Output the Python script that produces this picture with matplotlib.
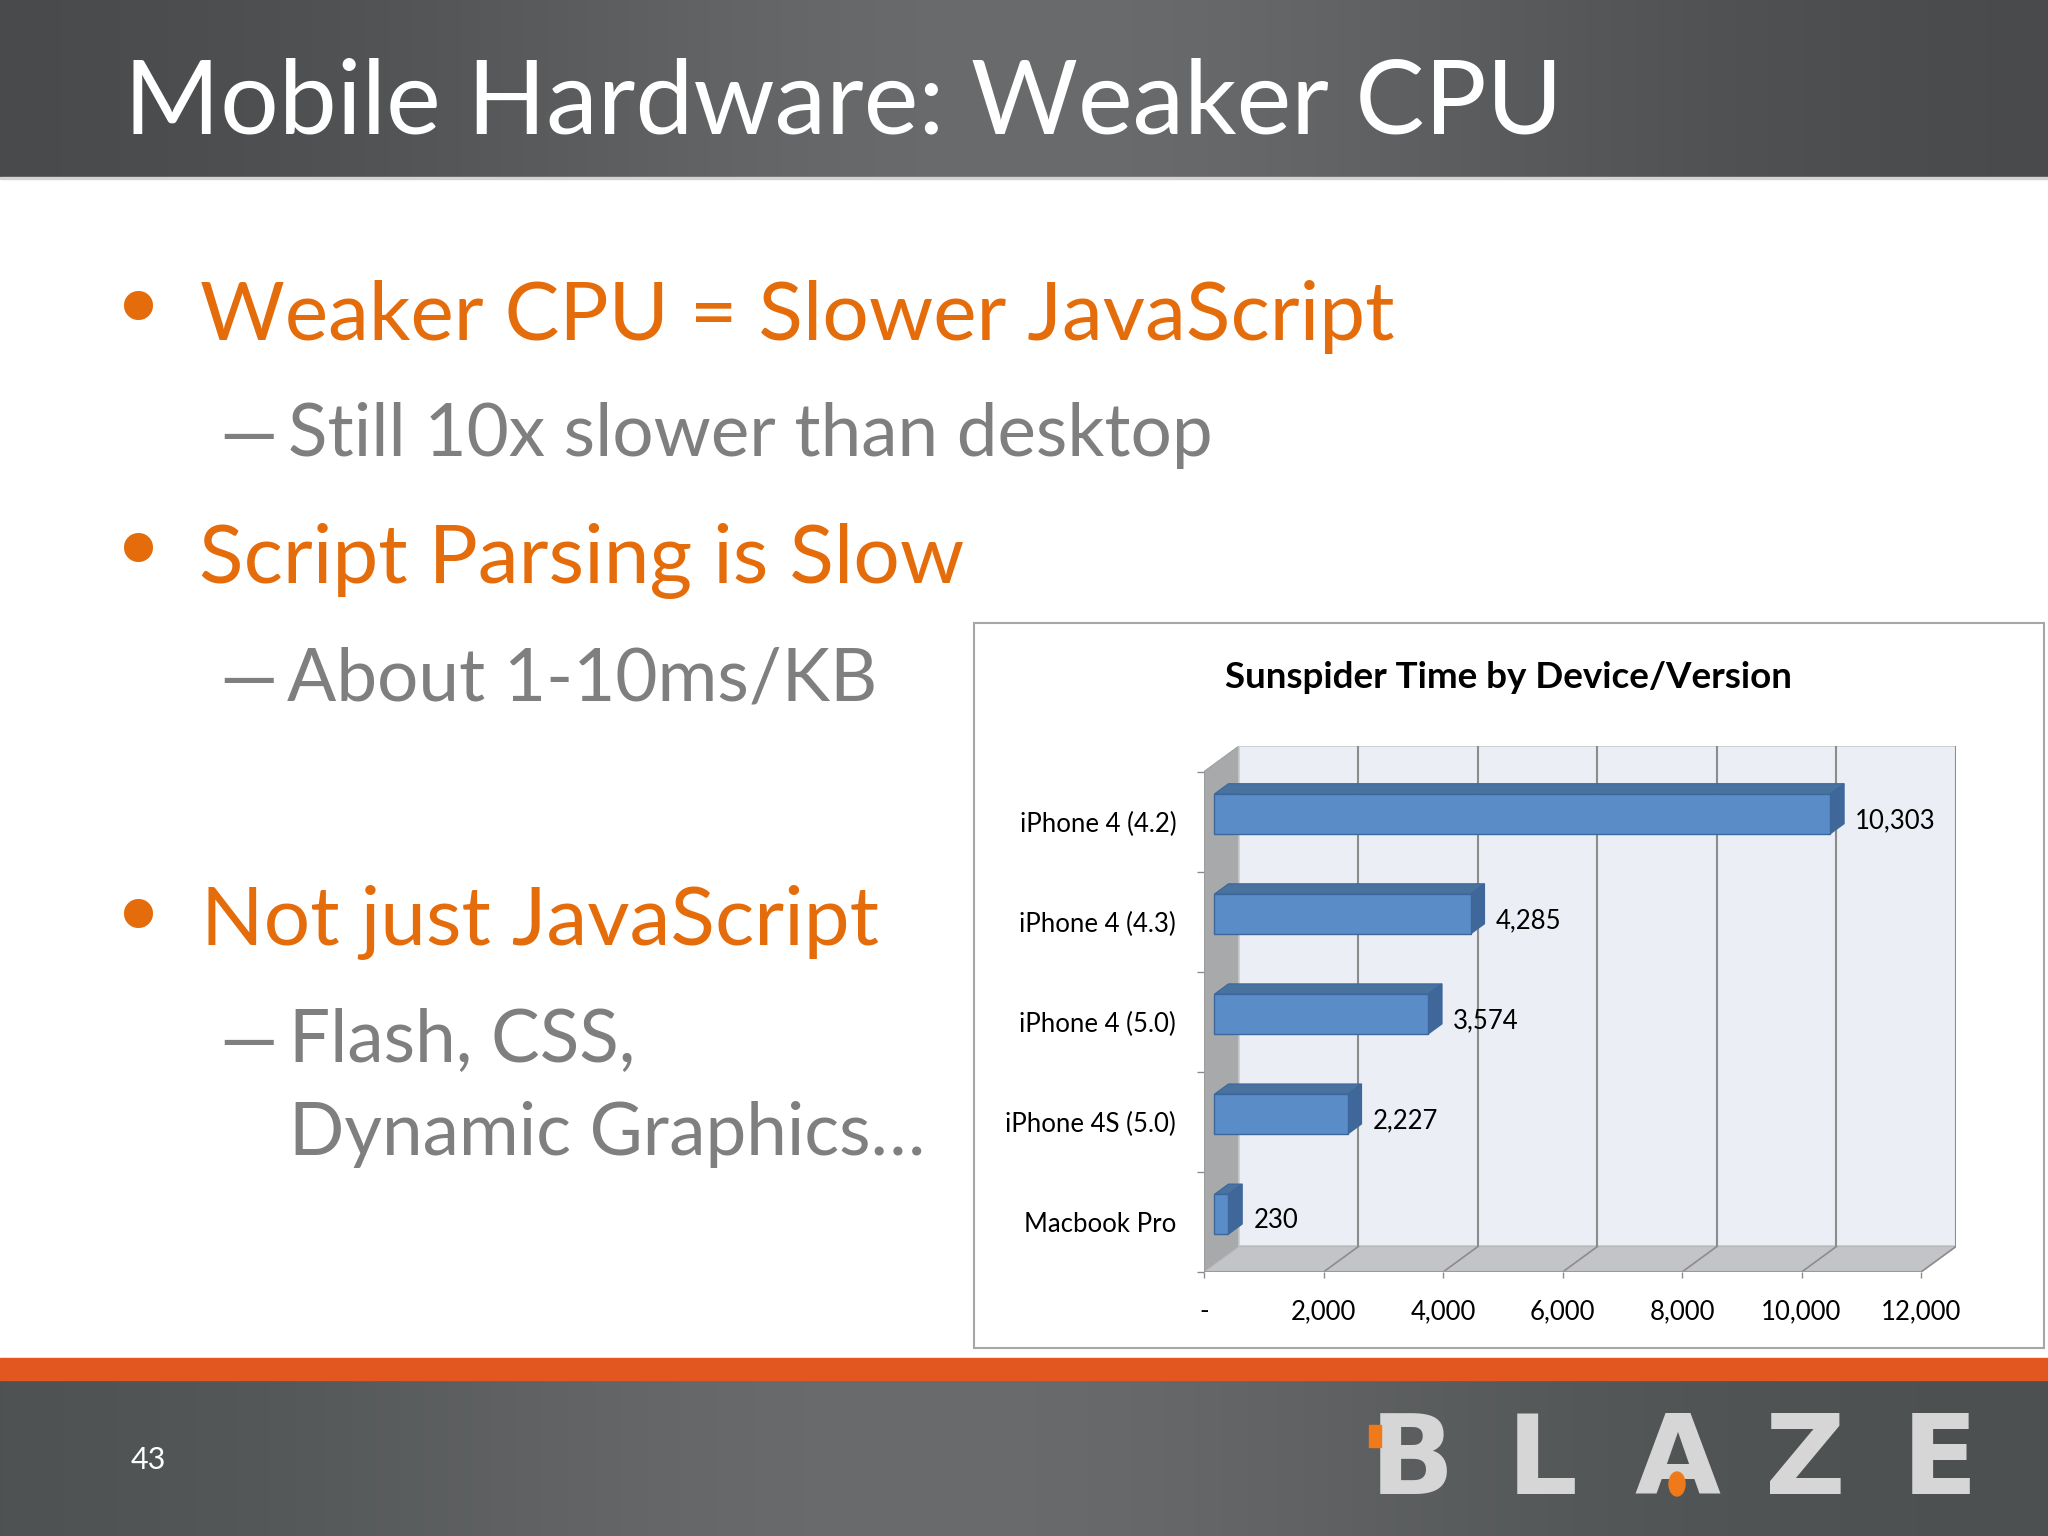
import numpy as np
import matplotlib
matplotlib.use('Agg')
import matplotlib.pyplot as plt
from matplotlib.patches import Rectangle, Polygon, Ellipse
from matplotlib.colors import to_rgb

#~~~~~~~~~ CHART DATA ~~~~~~~~~#
devices = ['iPhone 4 (4.2)', 'iPhone 4 (4.3)', 'iPhone 4 (5.0)', 'iPhone 4S (5.0)', 'Macbook Pro']
times = [10303, 4285, 3574, 2227, 230]
time_labels = ['10,303', '4,285', '3,574', '2,227', '230']
xticks = [0, 2000, 4000, 6000, 8000, 10000, 12000]
xticklabels = ['-', '2,000', '4,000', '6,000', '8,000', '10,000', '12,000']

slide_title = 'Mobile Hardware: Weaker CPU'
chart_title = 'Sunspider Time by Device/Version'
page_no = '43'

plt.rcParams['font.family'] = ['Lato', 'DejaVu Sans']

ORANGE = '#E46C0A'
GRAY = '#7F7F7F'

W, H = 2048, 1536
fig = plt.figure(figsize=(20.48, 15.36), dpi=100)
fig.patch.set_facecolor('white')

# slide background, pixel coordinates
bg = fig.add_axes([0, 0, 1, 1])
bg.axis('off')


def band(c_edge, c_mid, centre=0.5, spread=0.3):
    xs = np.linspace(0, 1, 600)
    glow = np.exp(-((xs - centre) / spread) ** 2)
    a = np.array(to_rgb(c_edge))
    b = np.array(to_rgb(c_mid))
    row = a[None, :] + (b - a)[None, :] * glow[:, None]
    return row[None, :, :]


bg.imshow(band('#464849', '#6a6b6c', 0.5), extent=[0, W, 177, 0], aspect='auto')
bg.add_patch(Rectangle((0, 177), W, 2, color='#d2d3d3'))
bg.add_patch(Rectangle((0, 1358), W, 22, color='#E2561F'))
bg.imshow(band('#4b4f50', '#6a6b6c', 0.45), extent=[0, W, H, 1380], aspect='auto')
bg.set_xlim(0, W)
bg.set_ylim(H, 0)

# title
bg.text(124, 134, slide_title, color='white', fontsize=74.5, va='baseline')

# bullets
for yb in [315, 557, 923]:
    bg.text(138, yb, '\u2022', color=ORANGE, fontsize=72, ha='center', va='center', family='DejaVu Sans')
bg.text(200, 340, 'Weaker CPU = Slower JavaScript', color=ORANGE, fontsize=59, va='baseline')
bg.text(199, 583, 'Script Parsing is Slow', color=ORANGE, fontsize=59, va='baseline')
bg.text(201, 945, 'Not just JavaScript', color=ORANGE, fontsize=59, va='baseline')
# sub-level dashes
for yb in [456, 700, 1062]:
    bg.text(219, yb + 2, '\u2014', color=GRAY, fontsize=53, va='baseline')
bg.text(288, 456, 'Still 10x slower than desktop', color=GRAY, fontsize=52.5, va='baseline')
bg.text(287, 700, 'About 1-10ms/KB', color=GRAY, fontsize=52.5, va='baseline')
bg.text(289, 1062, 'Flash, CSS,', color=GRAY, fontsize=52.5, va='baseline')
bg.text(289, 1155, 'Dynamic Graphics\u2026', color=GRAY, fontsize=52.5, va='baseline')

# chart frame
bg.add_patch(Rectangle((974, 623), 1070, 725, facecolor='white', edgecolor='#A6A6A6', lw=1.5))
bg.text(1508, 677, chart_title, ha='center', va='center', fontsize=26.5, fontweight='bold')

# footer
bg.text(131, 1460, page_no, color='white', fontsize=22, va='center')
for ch, xc in zip('BLAZE', [1412, 1542, 1677, 1805, 1940]):
    bg.text(xc, 1463, ch, color='#D6D6D6', fontsize=80, fontweight='bold',
            ha='center', va='center', family='DejaVu Sans')
bg.add_patch(Ellipse((1677, 1484), 16, 24, color='#F07A1A', zorder=5))
bg.add_patch(Rectangle((1369, 1425), 12, 22, color='#F07A1A', zorder=5))

#~~~~~~~~~ 3D-look bar chart ~~~~~~~~~#
DX = 585     # depth shift along value axis (data units)
DY = 0.255   # depth shift along category axis
F0, BD, BH = 0.3, 0.4, 0.4   # bar front offset, bar depth, bar height

ax = fig.add_axes([1204 / W, 1 - 1272 / H, 752 / W, 526 / H])
ax.patch.set_visible(False)
for s in ax.spines.values():
    s.set_visible(False)
ax.set_xlim(0, xticks[-1] + DX)
ax.set_ylim(-0.5, len(devices) - 0.5 + DY)

ytop = len(devices) - 0.5
xmax = xticks[-1]
ax.add_patch(Polygon([(0, -0.5), (0, ytop), (DX, ytop + DY), (DX, -0.5 + DY)],
                     facecolor='#A7A9AA', edgecolor='#9C9E9F', lw=0.8, zorder=1))
ax.add_patch(Rectangle((DX, -0.5 + DY), xmax, len(devices), facecolor='#ECEEF6',
                       edgecolor='#C9CACC', lw=1.2, zorder=1))
ax.add_patch(Polygon([(0, -0.5), (xmax, -0.5), (xmax + DX, -0.5 + DY), (DX, -0.5 + DY)],
                     facecolor='#C3C4C7', edgecolor='#B6B7B9', lw=0.8, zorder=1))
for v in xticks[1:]:
    ax.plot([v + DX, v + DX], [-0.5 + DY, ytop + DY], color='#8C8C8C', lw=1.5, zorder=2)
    ax.plot([v, v + DX], [-0.5, -0.5 + DY], color='#8C8C8C', lw=1.2, zorder=2)
ax.plot([0, xmax], [-0.5, -0.5], color='#9A9A9A', lw=1.5, zorder=2)
ax.plot([0, 0], [-0.5, ytop], color='#9A9A9A', lw=1.2, zorder=2)

ypos = np.arange(len(devices))[::-1]
yc = ypos + F0 * DY
x0 = F0 * DX
ax.barh(yc, times, left=x0, height=BH, color='#5A8DC8', edgecolor='#3C679C', lw=1, zorder=4)
for y, v, lab in zip(yc, times, time_labels):
    ax.add_patch(Polygon([(x0, y + BH / 2), (x0 + v, y + BH / 2),
                          (x0 + v + BD * DX, y + BH / 2 + BD * DY), (x0 + BD * DX, y + BH / 2 + BD * DY)],
                         facecolor='#49729F', edgecolor='#3C679C', lw=0.8, zorder=3))
    ax.add_patch(Polygon([(x0 + v, y - BH / 2), (x0 + v + BD * DX, y - BH / 2 + BD * DY),
                          (x0 + v + BD * DX, y + BH / 2 + BD * DY), (x0 + v, y + BH / 2)],
                         facecolor='#40679A', edgecolor='#3C679C', lw=0.8, zorder=3))
    ax.annotate(lab, (v + (F0 + BD) * DX, y - F0 * DY + 0.01), xytext=(8, 0),
                textcoords='offset points', va='center', ha='left', fontsize=18.5, zorder=5)

ax.set_xticks(xticks, xticklabels)
ax.tick_params(axis='x', length=4.5, width=1, color='#8C8C8C', pad=15, labelsize=18.5)
ax.set_yticks(ypos, devices)
ax.set_yticks(np.arange(-0.5, len(devices), 1.0), minor=True)
ax.tick_params(axis='y', which='major', length=0, pad=20, labelsize=18.5)
ax.tick_params(axis='y', which='minor', length=5, width=1, color='#8C8C8C')

fig.savefig('out.png', dpi=100)
